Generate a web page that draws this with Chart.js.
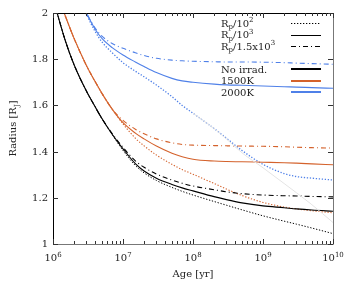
<!DOCTYPE html>
<html>
<head>
<meta charset="utf-8">
<script src="https://cdn.jsdelivr.net/npm/chart.js@4.4.1/dist/chart.umd.min.js"></script>
<style>
  html, body { margin: 0; padding: 0; background: #ffffff; }
  #wrap { width: 354px; height: 283px; }
</style>
</head>
<body>
<div id="wrap"><canvas id="c" width="354" height="283"></canvas></div>
<script>
// ---------- data ----------
const ages = [1e6, 1.5e6, 2e6, 3e6, 4e6, 5e6, 7e6, 1e7, 1.5e7, 2e7, 3e7, 5e7, 7e7, 1e8, 2e8, 3e8, 5e8, 1e9, 2e9, 3e9, 5e9, 1e10];

const noIrradDotted  = [2.063, 1.88, 1.776, 1.662, 1.594, 1.543, 1.474, 1.405, 1.34, 1.308, 1.275, 1.245, 1.228, 1.212, 1.184, 1.168, 1.148, 1.122, 1.099, 1.086, 1.069, 1.045];
const noIrradSolid   = [2.063, 1.88, 1.776, 1.662, 1.594, 1.543, 1.475, 1.412, 1.348, 1.316, 1.285, 1.258, 1.243, 1.23, 1.205, 1.192, 1.178, 1.165, 1.157, 1.152, 1.147, 1.142];
const noIrradDashDot = [2.063, 1.88, 1.776, 1.662, 1.594, 1.543, 1.478, 1.418, 1.36, 1.332, 1.303, 1.277, 1.263, 1.251, 1.235, 1.226, 1.218, 1.212, 1.209, 1.208, 1.206, 1.204];

const k1500Dotted  = [2.134, 1.987, 1.89, 1.773, 1.703, 1.652, 1.584, 1.52, 1.458, 1.425, 1.385, 1.345, 1.322, 1.302, 1.262, 1.238, 1.21, 1.18, 1.16, 1.152, 1.144, 1.135];
const k1500Solid   = [2.134, 1.987, 1.89, 1.773, 1.703, 1.652, 1.584, 1.525, 1.48, 1.455, 1.424, 1.393, 1.378, 1.367, 1.359, 1.357, 1.356, 1.354, 1.352, 1.35, 1.347, 1.343];
const k1500DashDot = [2.134, 1.987, 1.89, 1.773, 1.703, 1.652, 1.584, 1.535, 1.497, 1.477, 1.455, 1.438, 1.431, 1.428, 1.426, 1.425, 1.424, 1.423, 1.421, 1.419, 1.417, 1.415];

const k2000Dotted  = [2.32, 2.19, 2.11, 1.995, 1.92, 1.875, 1.828, 1.785, 1.748, 1.724, 1.688, 1.638, 1.60, 1.566, 1.50, 1.458, 1.405, 1.345, 1.305, 1.292, 1.285, 1.277];
const k2000Solid   = [2.32, 2.19, 2.11, 2.0, 1.93, 1.89, 1.85, 1.818, 1.788, 1.768, 1.742, 1.717, 1.706, 1.70, 1.692, 1.689, 1.687, 1.684, 1.681, 1.679, 1.677, 1.674];
const k2000DashDot = [2.32, 2.19, 2.11, 2.0, 1.935, 1.90, 1.868, 1.847, 1.828, 1.816, 1.804, 1.796, 1.793, 1.791, 1.789, 1.788, 1.788, 1.787, 1.785, 1.783, 1.781, 1.778];

// faint unlabelled curve, visible only once it leaves the blue dotted one
const faintCurve   = [null, null, null, null, null, null, null, null, null, null, null, null, null, 1.566, 1.50, 1.455, 1.395, 1.33, 1.262, 1.222, 1.17, 1.093];

const yTickValues = [1, 1.2, 1.4, 1.6, 1.8, 2];
const yTickLabels = ['1', '1.2', '1.4', '1.6', '1.8', '2'];
const xTickValues = [1e6, 1e7, 1e8, 1e9, 1e10];
const xTickExponents = ['6', '7', '8', '9', '10'];
const xTitle = 'Age [yr]';
const yTitleParts = [{t: 'Radius [R'}, {t: 'J', sub: true}, {t: ']'}];
const legendStyleEntries = [
  [{t: 'R'}, {t: 'p', sub: true}, {t: '/10'}, {t: '2', sup: true}],
  [{t: 'R'}, {t: 'p', sub: true}, {t: '/10'}, {t: '3', sup: true}],
  [{t: 'R'}, {t: 'p', sub: true}, {t: '/1.5x10'}, {t: '3', sup: true}]
];
const legendColorEntries = ['No irrad.', '1500K', '2000K'];

// ---------- styles ----------
const BLACK = '#000000', ORANGE = '#d4622c', BLUE = '#4f80e8', FAINT = '#e4e4e4';
const DOT = [1.3, 1.7], DASHDOT = [5, 3, 1, 3], SOLID = [];
const FONT = '"DejaVu Serif", "Liberation Serif", serif';

function pts(vals) { return ages.map((a, i) => ({x: a, y: vals[i]})); }
function ds(vals, color, dash, width) {
  return {
    data: pts(vals), borderColor: color, borderDash: dash, borderWidth: width || 1.1,
    pointRadius: 0, fill: false, cubicInterpolationMode: 'monotone', clip: 0, spanGaps: false
  };
}

function drawRich(ctx, x, y, parts, size, measureOnly) {
  let cx = x;
  const small = Math.round(size * 0.7);
  for (const p of parts) {
    if (p.sub || p.sup) ctx.font = small + 'px ' + FONT;
    else ctx.font = size + 'px ' + FONT;
    const dy = p.sub ? size * 0.25 : (p.sup ? -size * 0.42 : 0);
    if (!measureOnly) ctx.fillText(p.t, cx, y + dy);
    cx += ctx.measureText(p.t).width;
  }
  return cx - x;
}

const framePlugin = {
  id: 'frame',
  afterDraw(chart) {
    const ctx = chart.ctx, a = chart.chartArea;
    const xs = chart.scales.x, ys = chart.scales.y;
    ctx.save();
    ctx.lineWidth = 1;
    // frame
    ctx.strokeStyle = '#000';
    ctx.beginPath();
    ctx.moveTo(a.left + 0.5, a.bottom + 0.5); ctx.lineTo(a.left + 0.5, a.top + 0.5); ctx.lineTo(a.right + 0.5, a.top + 0.5);
    ctx.stroke();
    ctx.strokeStyle = '#777';
    ctx.beginPath();
    ctx.moveTo(a.left + 0.5, a.bottom + 0.5); ctx.lineTo(a.right + 0.5, a.bottom + 0.5); ctx.lineTo(a.right + 0.5, a.top + 0.5);
    ctx.stroke();
    // ticks
    ctx.strokeStyle = '#333';
    ctx.beginPath();
    yTickValues.forEach(v => {
      const py = Math.round(ys.getPixelForValue(v)) + 0.5;
      ctx.moveTo(a.left, py); ctx.lineTo(a.left + 5, py);
      ctx.moveTo(a.right, py); ctx.lineTo(a.right - 5, py);
    });
    xTickValues.forEach((v, i) => {
      const px = Math.round(xs.getPixelForValue(v)) + 0.5;
      ctx.moveTo(px, a.bottom); ctx.lineTo(px, a.bottom - 5);
      ctx.moveTo(px, a.top); ctx.lineTo(px, a.top + 5);
      if (i < xTickValues.length - 1) {
        for (let m = 2; m <= 9; m++) {
          const mx = Math.round(xs.getPixelForValue(v * m)) + 0.5;
          ctx.moveTo(mx, a.bottom); ctx.lineTo(mx, a.bottom - 3);
          ctx.moveTo(mx, a.top); ctx.lineTo(mx, a.top + 3);
        }
      }
    });
    ctx.stroke();
    // tick labels
    ctx.fillStyle = '#222';
    ctx.font = '10px ' + FONT;
    ctx.textAlign = 'right'; ctx.textBaseline = 'middle';
    yTickValues.forEach((v, i) => {
      ctx.fillText(yTickLabels[i], a.left - 5, ys.getPixelForValue(v) + 0.5);
    });
    ctx.textAlign = 'left'; ctx.textBaseline = 'alphabetic';
    xTickValues.forEach((v, i) => {
      const parts = [{t: '10'}, {t: xTickExponents[i], sup: true}];
      const w = drawRich(ctx, 0, 0, parts, 10, true);
      drawRich(ctx, xs.getPixelForValue(v) - w / 2, a.bottom + 17, parts, 10);
    });
    // axis titles
    ctx.font = '10px ' + FONT;
    ctx.textAlign = 'center';
    ctx.fillText(xTitle, (a.left + a.right) / 2, a.bottom + 33);
    ctx.save();
    ctx.translate(16, (a.top + a.bottom) / 2);
    ctx.rotate(-Math.PI / 2);
    ctx.textAlign = 'left';
    const tw = drawRich(ctx, 0, 0, yTitleParts, 10, true);
    drawRich(ctx, -tw / 2, 0, yTitleParts, 10);
    ctx.restore();
    // legend
    ctx.textAlign = 'left';
    const lx = 221, sx0 = 291, sx1 = 321;
    const styleY = [23, 34.5, 46];
    const styleDash = [DOT, SOLID, DASHDOT];
    legendStyleEntries.forEach((parts, i) => {
      ctx.fillStyle = '#222';
      drawRich(ctx, lx, styleY[i] + 3.5, parts, 10);
      ctx.strokeStyle = '#000'; ctx.lineWidth = 1; ctx.setLineDash(styleDash[i]);
      ctx.beginPath(); ctx.moveTo(sx0, Math.round(styleY[i]) + 0.5); ctx.lineTo(sx1, Math.round(styleY[i]) + 0.5); ctx.stroke();
    });
    ctx.setLineDash([]);
    const colY = [69, 80.5, 92];
    const cols = [BLACK, ORANGE, BLUE];
    legendColorEntries.forEach((t, i) => {
      ctx.fillStyle = '#222';
      drawRich(ctx, lx, colY[i] + 3.5, [{t}], 10);
      ctx.strokeStyle = cols[i]; ctx.lineWidth = 2;
      ctx.beginPath(); ctx.moveTo(sx0, Math.round(colY[i])); ctx.lineTo(sx1, Math.round(colY[i])); ctx.stroke();
    });
    ctx.restore();
  }
};

new Chart(document.getElementById('c'), {
  type: 'line',
  data: {
    datasets: [
      ds(faintCurve, FAINT, SOLID, 1),
      ds(noIrradDotted, BLACK, DOT, 1), ds(noIrradSolid, BLACK, SOLID), ds(noIrradDashDot, BLACK, DASHDOT),
      ds(k1500Dotted, ORANGE, DOT, 1.1), ds(k1500Solid, ORANGE, SOLID), ds(k1500DashDot, ORANGE, DASHDOT),
      ds(k2000Dotted, BLUE, DOT, 1.3), ds(k2000Solid, BLUE, SOLID), ds(k2000DashDot, BLUE, DASHDOT)
    ]
  },
  options: {
    responsive: false, animation: false, parsing: true,
    layout: { padding: { left: 53, top: 13, right: 21, bottom: 39 } },
    plugins: { legend: { display: false }, tooltip: { enabled: false } },
    scales: {
      x: { type: 'logarithmic', min: 1e6, max: 1e10, display: false },
      y: { type: 'linear', min: 1, max: 2, display: false }
    }
  },
  plugins: [framePlugin]
});
</script>
</body>
</html>
